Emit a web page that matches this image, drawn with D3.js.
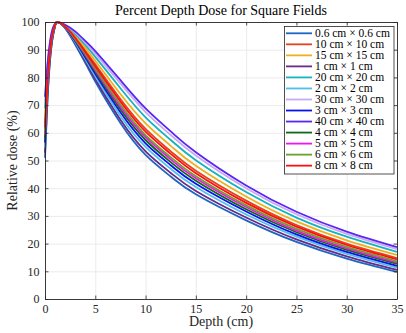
<!DOCTYPE html>
<html><head><meta charset="utf-8">
<script src="https://cdn.jsdelivr.net/npm/d3@7"></script>
<style>
html,body{margin:0;padding:0;background:#fff;}
svg{display:block;font-family:"Liberation Serif","Times New Roman",serif;}
</style></head>
<body><svg id="c" width="406" height="333"></svg>
<script>
// ---- data ----
const depths = [0,0.25,0.5,0.75,1,1.25,2,3,4,5,7.5,10,12.5,15,20,25,30,35];
const xTicks = [0,5,10,15,20,25,30,35];
const yTicks = [0,10,20,30,40,50,60,70,80,90,100];
const labels = ["0.6 cm × 0.6 cm","10 cm × 10 cm","15 cm × 15 cm","1 cm × 1 cm","20 cm × 20 cm","2 cm × 2 cm","30 cm × 30 cm","3 cm × 3 cm","40 cm × 40 cm","4 cm × 4 cm","5 cm × 5 cm","6 cm × 6 cm","8 cm × 8 cm"];
const colors = ["#1f66c0","#e2451c","#edb120","#6b2a86","#16b3bf","#4dbeee","#c9a8f5","#0a12f0","#5a26f5","#0c6b12","#f012f0","#6aa12a","#ff1010"];
const pdd06 = [51,72,86,94,98.5,100,97.8,91.9,85.3,78.5,63.5,52.0,44.2,37.8,28.4,20.6,14.6,9.8];
const pdd10 = [63.3,79.3,89.9,96.0,99.1,100,98.5,94.5,89.7,84.7,72.2,61.4,53.3,46.3,35.5,26.7,20.0,14.8];
const pdd15 = [66.0,80.8,90.8,96.4,99.2,100,98.6,95.1,90.7,86.0,74.0,63.4,55.3,48.1,37.0,28.0,21.2,15.9];
const pdd1  = [52.8,73.0,86.6,94.3,98.6,100,97.9,92.3,85.9,79.4,64.7,53.3,45.5,39.0,29.4,21.5,15.4,10.5];
const pdd20 = [68.8,82.5,91.7,96.8,99.3,100,98.8,95.7,91.7,87.4,76.1,65.6,57.4,50.1,38.6,29.4,22.5,17.0];
const pdd2  = [54.7,74.2,87.2,94.6,98.7,100,98.0,92.7,86.6,80.4,66.1,54.9,47.0,40.4,30.5,22.5,16.3,11.3];
const pdd30 = [71.2,84.0,92.4,97.2,99.4,100,98.9,96.2,92.6,88.6,77.8,67.5,59.2,51.8,40.0,30.6,23.5,18.0];
const pdd3  = [56.5,75.3,87.8,94.9,98.8,100,98.1,93.1,87.3,81.3,67.4,56.2,48.3,41.6,31.6,23.3,17.0,12.0];
const pdd40 = [73,85,93,97.5,99.5,100,99.0,96.6,93.2,89.5,79.0,68.8,60.5,53.0,41.0,31.5,24.3,18.7];
const pdd4  = [58.0,76.2,88.2,95.1,98.8,100,98.2,93.4,87.8,82.0,68.5,57.4,49.4,42.7,32.4,24.1,17.7,12.7];
const pdd5  = [59.4,76.9,88.7,95.3,98.9,100,98.3,93.7,88.3,82.7,69.4,58.4,50.4,43.6,33.2,24.7,18.3,13.2];
const pdd6  = [60.5,77.6,89.0,95.5,98.9,100,98.3,93.9,88.7,83.2,70.2,59.2,51.2,44.3,33.8,25.3,18.8,13.6];
const pdd8  = [62.0,78.5,89.5,95.8,99.0,100,98.4,94.3,89.3,84.0,71.3,60.4,52.4,45.4,34.7,26.1,19.5,14.3];
const series = [pdd06,pdd10,pdd15,pdd1,pdd20,pdd2,pdd30,pdd3,pdd40,pdd4,pdd5,pdd6,pdd8];

// ---- layout ----
const L=45,R=397,T=22,B=299;
const svg=d3.select("#c");
const x=d3.scaleLinear().domain([0,35]).range([L,R]);
const y=d3.scaleLinear().domain([0,100]).range([B,T]);
const axisCol="#262626";

svg.append("defs").append("clipPath").attr("id","clip")
  .append("rect").attr("x",L-1).attr("y",T-0.5).attr("width",R-L+2).attr("height",B-T+1);

// grid
svg.append("g").attr("transform",`translate(0,${B})`)
  .call(d3.axisBottom(x).tickValues(xTicks).tickSize(-(B-T)).tickFormat(""))
  .call(g=>{g.select(".domain").remove();g.selectAll("line").attr("stroke","#e6e6e6").attr("stroke-width",0.8);});
svg.append("g").attr("transform",`translate(${L},0)`)
  .call(d3.axisLeft(y).tickValues(yTicks).tickSize(-(R-L)).tickFormat(""))
  .call(g=>{g.select(".domain").remove();g.selectAll("line").attr("stroke","#e6e6e6").attr("stroke-width",0.8);});

// curves
const line=d3.line().x((d,i)=>x(depths[i])).y(d=>y(d)).curve(d3.curveNatural);
svg.append("g").attr("clip-path","url(#clip)").selectAll("path").data(series).join("path")
  .attr("d",line).attr("fill","none")
  .attr("stroke",(d,i)=>colors[i]).attr("stroke-width",1.8);

// axes
const fs="12px";
const xAx=svg.append("g").attr("transform",`translate(0,${B})`)
  .call(d3.axisBottom(x).tickValues(xTicks).tickSizeInner(-3.5).tickSizeOuter(0).tickPadding(5).tickFormat(d3.format("d")));
const yAx=svg.append("g").attr("transform",`translate(${L},0)`)
  .call(d3.axisLeft(y).tickValues(yTicks).tickSizeInner(-3.5).tickSizeOuter(0).tickPadding(5.5).tickFormat(d3.format("d")));
const xTop=svg.append("g").attr("transform",`translate(0,${T})`)
  .call(d3.axisTop(x).tickValues(xTicks).tickSizeInner(-3.5).tickSizeOuter(0).tickFormat(""));
const yRight=svg.append("g").attr("transform",`translate(${R},0)`)
  .call(d3.axisRight(y).tickValues(yTicks).tickSizeInner(-3.5).tickSizeOuter(0).tickFormat(""));
[xAx,yAx,xTop,yRight].forEach(g=>{
  g.select(".domain").attr("stroke",axisCol).attr("stroke-width",0.9);
  g.selectAll(".tick line").attr("stroke",axisCol).attr("stroke-width",0.8);
  g.selectAll("text").attr("fill",axisCol).style("font-size",fs).style("font-family","Liberation Serif");
});

// title and labels
svg.append("text").attr("x",(L+R)/2).attr("y",15).attr("text-anchor","middle")
  .style("font-size","14px").attr("fill","#000").text("Percent Depth Dose for Square Fields");
svg.append("text").attr("x",(L+R)/2).attr("y",326).attr("text-anchor","middle")
  .style("font-size","14px").attr("fill",axisCol).text("Depth (cm)");
svg.append("text").attr("transform",`translate(17,${(T+B)/2}) rotate(-90)`).attr("text-anchor","middle")
  .style("font-size","14px").attr("fill",axisCol).text("Relative dose (%)");

// legend
const lg=svg.append("g");
lg.append("rect").attr("x",284.5).attr("y",26.5).attr("width",109.5).attr("height",147.5)
  .attr("fill","#fff").attr("stroke",axisCol).attr("stroke-width",0.8);
const it=lg.selectAll("g.it").data(labels).join("g").attr("class","it")
  .attr("transform",(d,i)=>`translate(0,${33.3+i*11.03})`);
it.append("line").attr("x1",286).attr("x2",312).attr("stroke",(d,i)=>colors[i]).attr("stroke-width",1.8);
it.append("text").attr("x",315).attr("y",3.8).style("font-size","11.5px").attr("fill","#000").text(d=>d);
</script></body></html>
